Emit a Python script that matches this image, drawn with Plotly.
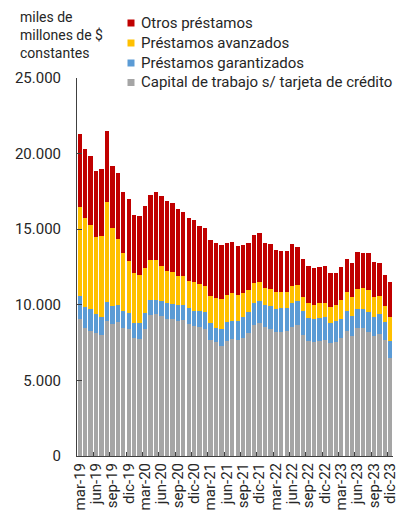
import plotly.graph_objects as go

# Meses (mar-19 a dic-23)
meses = ["ene", "feb", "mar", "abr", "may", "jun", "jul", "ago", "sep", "oct", "nov", "dic"]
periodos = [f"{m}-{a}" for a in range(19, 24) for m in meses][2:]
etiquetas_eje = periodos[::3]

# Stock en miles de millones de $ constantes
capital_trabajo = [
    9070, 8450, 8270, 8120, 8010, 8960, 8760, 8860, 8490, 8420,
    7830, 7740, 8430, 9340, 9400, 9290, 9070, 9050, 8940, 9010,
    8760, 8630, 8540, 8430, 7700, 7520, 7280, 7630, 7760, 7680,
    7810, 8140, 8670, 8780, 8500, 8410, 8210, 8210, 8270, 8540,
    8650, 7990, 7590, 7565, 7630, 7700, 7455, 7565, 7810, 8270,
    7960, 8470, 8450, 8210, 7940, 8100, 7675, 6460,
]
garantizados = [
    1530, 1395, 1460, 1270, 1190, 1240, 1180, 1150, 1070, 1070,
    975, 1040, 1020, 970, 950, 975, 1020, 995, 1040, 990,
    1020, 990, 1060, 1080, 1105, 975, 1125, 1200, 1200, 1260,
    1390, 1370, 1420, 1485, 1480, 1520, 1500, 1570, 1510, 1570,
    1615, 1570, 1570, 1485, 1485, 1480, 1350, 1350, 1280, 1310,
    1310, 1285, 1305, 1300, 1240, 1300, 1195, 1150,
]
avanzados = [
    5890, 5865, 5560, 5125, 5380, 6620, 5110, 4330, 3890, 3430,
    3295, 3170, 2960, 2680, 2620, 2325, 2145, 2105, 1945, 1880,
    1790, 1860, 1750, 1750, 1795, 1970, 1970, 1790, 1840, 1720,
    1575, 1465, 1370, 1215, 1150, 1130, 1110, 1060, 1060, 1140,
    1040, 970, 970, 950, 975, 930, 1040, 1040, 1200, 1240,
    1240, 1305, 1350, 1440, 1330, 1200, 1065, 1615,
]
otros = [
    4780, 4580, 4540, 4315, 4380, 4690, 4110, 4400, 3990, 4050,
    3830, 3940, 4100, 4270, 4470, 4625, 4605, 4555, 4405, 4240,
    4140, 4120, 3850, 3790, 3715, 3630, 3565, 3475, 3380, 3260,
    3210, 3120, 3140, 3280, 2965, 2945, 2830, 2720, 2720, 2765,
    2545, 2500, 2440, 2435, 2410, 2460, 2255, 2170, 2190, 2235,
    2260, 2440, 2350, 2460, 2300, 2190, 2055, 2255,
]

series = [
    ("Capital de trabajo s/ tarjeta de crédito", capital_trabajo, "#A5A5A5"),
    ("Préstamos garantizados", garantizados, "#5B9BD5"),
    ("Préstamos avanzados", avanzados, "#FFC000"),
    ("Otros préstamos", otros, "#C00000"),
]

FONT = "Roboto, Arial, sans-serif"
TXT = "#262626"
AXIS = "#404040"

W, H = 398, 522
M = dict(l=77, r=5, t=78, b=66)
PW = W - M["l"] - M["r"]
PH = H - M["t"] - M["b"]


def px_x(px):
    return (px - M["l"]) / PW


def px_y(py):
    return (H - M["b"] - py) / PH


fig = go.Figure()
for nombre, valores, color in series:
    fig.add_trace(go.Bar(
        x=periodos, y=valores, name=nombre,
        marker=dict(color=color, line=dict(width=0)),
        showlegend=False,
    ))

# Leyenda compacta: cuadrado de color + texto, de arriba hacia abajo
shapes = []
annotations = []
filas_y = [23, 43, 63, 82.5]
for (nombre, _, color), fy in zip(reversed(series), filas_y):
    shapes.append(dict(
        type="rect", xref="paper", yref="paper",
        x0=px_x(127.5), x1=px_x(134.5),
        y0=px_y(fy + 3.5), y1=px_y(fy - 3.5),
        fillcolor=color, line=dict(width=0),
    ))
    annotations.append(dict(
        text=nombre, xref="paper", yref="paper",
        x=px_x(139), xanchor="left", y=px_y(fy), yanchor="middle",
        showarrow=False, font=dict(family=FONT, size=15, color=TXT),
    ))

annotations.append(dict(
    text="miles de<br>millones de $<br>constantes",
    xref="paper", yref="paper",
    x=px_x(18), xanchor="left",
    y=px_y(7), yanchor="top",
    align="left", showarrow=False,
    font=dict(family=FONT, size=14, color=TXT),
))

fig.update_layout(
    barmode="stack",
    bargap=0.2,
    width=W, height=H,
    margin=dict(**M, autoexpand=False),
    paper_bgcolor="white",
    plot_bgcolor="white",
    separators=",.",
    font=dict(family=FONT, size=14, color=TXT),
    shapes=shapes,
    annotations=annotations,
)

fig.update_xaxes(
    type="category",
    tickmode="array",
    tickvals=etiquetas_eje,
    ticktext=etiquetas_eje,
    tickson="boundaries",
    ticks="inside", ticklen=4, tickcolor=AXIS, tickwidth=1,
    tickangle=-90,
    tickfont=dict(family=FONT, size=15, color=TXT),
    showline=True, linecolor=AXIS, linewidth=1,
    showgrid=False, zeroline=False,
)
fig.update_yaxes(
    range=[0, 25000],
    tickvals=[0, 5000, 10000, 15000, 20000, 25000],
    tickformat=",d",
    ticks="inside", ticklen=5, tickcolor=AXIS, tickwidth=1,
    ticklabelstandoff=12,
    tickfont=dict(family=FONT, size=15, color=TXT),
    showline=True, linecolor=AXIS, linewidth=1,
    showgrid=False, zeroline=False,
)

fig.write_html("out.html")
